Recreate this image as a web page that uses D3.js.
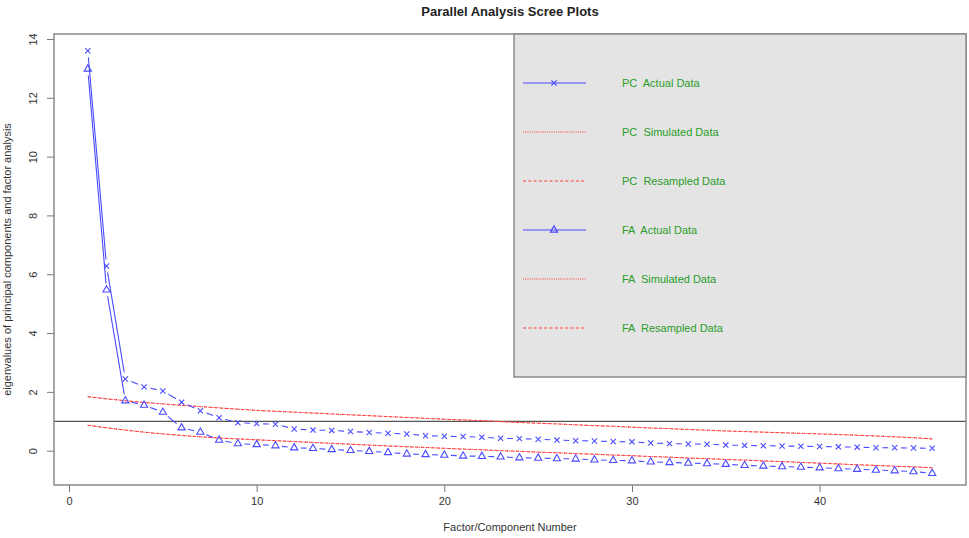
<!DOCTYPE html>
<html>
<head>
<meta charset="utf-8">
<script src="https://cdn.jsdelivr.net/npm/d3@7"></script>
<style>
  body { margin: 0; background: #fff; }
  svg text { font-family: "Liberation Sans", Arial, sans-serif; white-space: pre; }
</style>
</head>
<body>
<div class="canvas"></div>
<script>
/////////////////////////////////////////////////
// Data
/////////////////////////////////////////////////

const components = d3.range(1, 47);

const pcActual = [13.6, 6.28, 2.44, 2.17, 2.03, 1.65, 1.36, 1.12, 0.95, 0.92,
  0.9, 0.74, 0.7, 0.69, 0.65, 0.62, 0.59, 0.57, 0.51, 0.49,
  0.48, 0.46, 0.42, 0.41, 0.39, 0.36, 0.34, 0.33, 0.31, 0.3,
  0.26, 0.24, 0.23, 0.22, 0.19, 0.18, 0.17, 0.16, 0.15, 0.14,
  0.13, 0.12, 0.1, 0.1, 0.09, 0.08];

const faActual = [12.98, 5.47, 1.7, 1.55, 1.31, 0.78, 0.63, 0.36, 0.24, 0.21,
  0.17, 0.1, 0.08, 0.04, 0.01, -0.02, -0.06, -0.11, -0.13, -0.15,
  -0.18, -0.19, -0.21, -0.24, -0.25, -0.27, -0.28, -0.31, -0.33, -0.34,
  -0.38, -0.4, -0.42, -0.44, -0.46, -0.5, -0.52, -0.54, -0.56, -0.58,
  -0.61, -0.63, -0.66, -0.68, -0.71, -0.77];

const pcSimulated = [1.84, 1.77, 1.7, 1.64, 1.59, 1.54, 1.5, 1.46, 1.41, 1.37,
  1.34, 1.31, 1.28, 1.25, 1.22, 1.19, 1.16, 1.13, 1.1, 1.07,
  1.05, 1.02, 0.99, 0.96, 0.94, 0.91, 0.88, 0.85, 0.83, 0.8,
  0.77, 0.75, 0.72, 0.69, 0.67, 0.65, 0.63, 0.61, 0.59, 0.57,
  0.55, 0.53, 0.5, 0.47, 0.44, 0.4];
const pcResampled = [1.83, 1.76, 1.7, 1.64, 1.59, 1.54, 1.5, 1.45, 1.41, 1.37,
  1.34, 1.31, 1.28, 1.25, 1.22, 1.19, 1.16, 1.13, 1.1, 1.07,
  1.04, 1.02, 0.99, 0.96, 0.93, 0.91, 0.88, 0.85, 0.83, 0.8,
  0.77, 0.75, 0.72, 0.7, 0.67, 0.65, 0.63, 0.61, 0.59, 0.57,
  0.55, 0.52, 0.5, 0.47, 0.44, 0.4];

const faSimulated = [0.87, 0.78, 0.7, 0.63, 0.57, 0.52, 0.47, 0.43, 0.4, 0.37,
  0.34, 0.31, 0.28, 0.25, 0.22, 0.19, 0.16, 0.14, 0.11, 0.08,
  0.06, 0.03, 0.0, -0.02, -0.05, -0.07, -0.1, -0.12, -0.15, -0.17,
  -0.2, -0.22, -0.25, -0.27, -0.3, -0.32, -0.35, -0.37, -0.4, -0.43,
  -0.45, -0.48, -0.5, -0.53, -0.55, -0.58];
const faResampled = [0.86, 0.78, 0.7, 0.63, 0.57, 0.52, 0.47, 0.43, 0.4, 0.37,
  0.34, 0.31, 0.28, 0.25, 0.22, 0.19, 0.16, 0.13, 0.11, 0.08,
  0.05, 0.03, 0.0, -0.02, -0.05, -0.07, -0.1, -0.12, -0.15, -0.17,
  -0.2, -0.22, -0.25, -0.27, -0.3, -0.32, -0.35, -0.37, -0.4, -0.42,
  -0.45, -0.48, -0.5, -0.53, -0.55, -0.58];

const xTicks = [0, 10, 20, 30, 40];
const yTicks = [0, 2, 4, 6, 8, 10, 12, 14];

const legendLabels = ["PC  Actual Data", "PC  Simulated Data", "PC  Resampled Data",
  "FA  Actual Data", "FA  Simulated Data", "FA  Resampled Data"];

/////////////////////////////////////////////////
// Setup
/////////////////////////////////////////////////

const width = 969;
const height = 538;
const margin = { top: 34, right: 3, bottom: 53, left: 54 };

const blue = "#4a4aff";
const red = "#ff3a3a";
const green = "#2a9d2a";
const boxGrey = "#8a8a8a";

const svg = d3.select(".canvas").append("svg")
  .attr("width", width)
  .attr("height", height);

const x = d3.scaleLinear()
  .domain([-0.8, 47.8])
  .range([margin.left, width - margin.right]);
const y = d3.scaleLinear()
  .domain([-1.167, 14.17])
  .range([height - margin.bottom, margin.top]);

const series = (vals) => components.map((c, i) => [c, vals[i]]);

// Title
svg.append("text")
  .attr("x", (margin.left + width - margin.right) / 2)
  .attr("y", 16)
  .attr("text-anchor", "middle")
  .attr("font-size", 13)
  .attr("font-weight", "bold")
  .attr("fill", "#222")
  .text("Parallel Analysis Scree Plots");

// Axes
const xAxis = svg.append("g")
  .attr("transform", `translate(0, ${height - margin.bottom})`)
  .call(d3.axisBottom(x).tickValues(xTicks).tickSize(7).tickPadding(5));
const yAxis = svg.append("g")
  .attr("transform", `translate(${margin.left}, 0)`)
  .call(d3.axisLeft(y).tickValues(yTicks).tickSize(7).tickPadding(0));

[xAxis, yAxis].forEach((g) => {
  g.select(".domain").remove();
  g.selectAll(".tick line").attr("stroke", "#777");
  g.selectAll(".tick text")
    .attr("font-size", 11)
    .attr("fill", "#333")
    .attr("font-family", "Liberation Sans, Arial, sans-serif");
});
yAxis.selectAll(".tick text")
  .attr("x", null).attr("dy", null)
  .attr("text-anchor", "middle")
  .attr("transform", "translate(-17, 0) rotate(-90)");

// Axis titles
svg.append("text")
  .attr("x", (margin.left + width - margin.right) / 2)
  .attr("y", 531)
  .attr("text-anchor", "middle")
  .attr("font-size", 11)
  .attr("fill", "#333")
  .text("Factor/Component Number");
svg.append("text")
  .attr("transform", `translate(11, ${(margin.top + height - margin.bottom) / 2}) rotate(-90)`)
  .attr("text-anchor", "middle")
  .attr("font-size", 11)
  .attr("fill", "#333")
  .text("eigenvalues of principal components and factor analysis");

/////////////////////////////////////////////////
// Marks
/////////////////////////////////////////////////

const plot = svg.append("g");

// Reference line at eigenvalue 1
plot.append("line")
  .attr("x1", margin.left).attr("x2", width - margin.right)
  .attr("y1", y(1)).attr("y2", y(1))
  .attr("stroke", "#555")
  .attr("stroke-width", 1.2);

// Simulated (dotted) and resampled (dashed) reference curves
const line = d3.line().x((d) => x(d[0])).y((d) => y(d[1]));
[[pcSimulated, "1,1.2"], [pcResampled, "3,2.3"],
 [faSimulated, "1,1.2"], [faResampled, "3,2.3"]].forEach(([vals, dash]) => {
  plot.append("path")
    .datum(series(vals))
    .attr("d", line)
    .attr("fill", "none")
    .attr("stroke", red)
    .attr("stroke-width", 1)
    .attr("stroke-dasharray", dash);
});

// Actual data: lines broken around each point (R type = "b")
const gap = 6.5;
function gappedSegments(pts) {
  const segs = [];
  for (let i = 1; i < pts.length; i++) {
    const [x0, y0] = [x(pts[i - 1][0]), y(pts[i - 1][1])];
    const [x1, y1] = [x(pts[i][0]), y(pts[i][1])];
    const d = Math.hypot(x1 - x0, y1 - y0);
    if (d <= 2 * gap) continue;
    const ux = (x1 - x0) / d, uy = (y1 - y0) / d;
    segs.push([x0 + ux * gap, y0 + uy * gap, x1 - ux * gap, y1 - uy * gap]);
  }
  return segs;
}

const crossPath = (s) => `M${-s},${-s}L${s},${s}M${-s},${s}L${s},${-s}`;
const triPath = (s) => `M0,${-s * 1.15}L${s},${s * 0.6}L${-s},${s * 0.6}Z`;

function drawActual(vals, markerPath) {
  const pts = series(vals);
  const g = plot.append("g");
  g.selectAll("line")
    .data(gappedSegments(pts))
    .join("line")
    .attr("x1", (d) => d[0]).attr("y1", (d) => d[1])
    .attr("x2", (d) => d[2]).attr("y2", (d) => d[3])
    .attr("stroke", blue)
    .attr("stroke-width", 1.1);
  g.selectAll("path")
    .data(pts)
    .join("path")
    .attr("transform", (d) => `translate(${x(d[0])}, ${y(d[1])})`)
    .attr("d", markerPath)
    .attr("fill", "none")
    .attr("stroke", blue)
    .attr("stroke-width", 1.1);
}

drawActual(pcActual, crossPath(2.6));
drawActual(faActual, triPath(3.6));

// Plot box
svg.append("rect")
  .attr("x", margin.left).attr("y", margin.top)
  .attr("width", width - margin.left - margin.right)
  .attr("height", height - margin.top - margin.bottom)
  .attr("fill", "none")
  .attr("stroke", boxGrey)
  .attr("stroke-width", 1.5);

/////////////////////////////////////////////////
// Legend
/////////////////////////////////////////////////

const legend = svg.append("g");
legend.append("rect")
  .attr("x", 514).attr("y", margin.top)
  .attr("width", width - margin.right - 514)
  .attr("height", 343)
  .attr("fill", "#e4e4e4")
  .attr("stroke", boxGrey)
  .attr("stroke-width", 1.5);

const ly = d3.scalePoint().domain(legendLabels).range([83, 328]);
const legendStyle = [
  { stroke: blue, dash: null, marker: crossPath(2.6) },
  { stroke: red, dash: "1,1.2", marker: null },
  { stroke: red, dash: "3,2.3", marker: null },
  { stroke: blue, dash: null, marker: triPath(3.6) },
  { stroke: red, dash: "1,1.2", marker: null },
  { stroke: red, dash: "3,2.3", marker: null },
];

const items = legend.selectAll(".item")
  .data(legendLabels)
  .join("g")
  .attr("class", "item")
  .attr("transform", (d) => `translate(0, ${ly(d)})`);

items.append("line")
  .attr("x1", 523).attr("x2", 586)
  .attr("stroke", (d, i) => legendStyle[i].stroke)
  .attr("stroke-width", 1)
  .attr("stroke-dasharray", (d, i) => legendStyle[i].dash);
items.filter((d, i) => legendStyle[i].marker)
  .append("path")
  .attr("transform", "translate(554, 0)")
  .attr("d", (d) => legendStyle[legendLabels.indexOf(d)].marker)
  .attr("fill", "none")
  .attr("stroke", blue)
  .attr("stroke-width", 1.2);
items.append("text")
  .attr("x", 622)
  .attr("dy", "0.35em")
  .attr("font-size", 11)
  .attr("fill", green)
  .text((d) => d);
</script>
</body>
</html>
